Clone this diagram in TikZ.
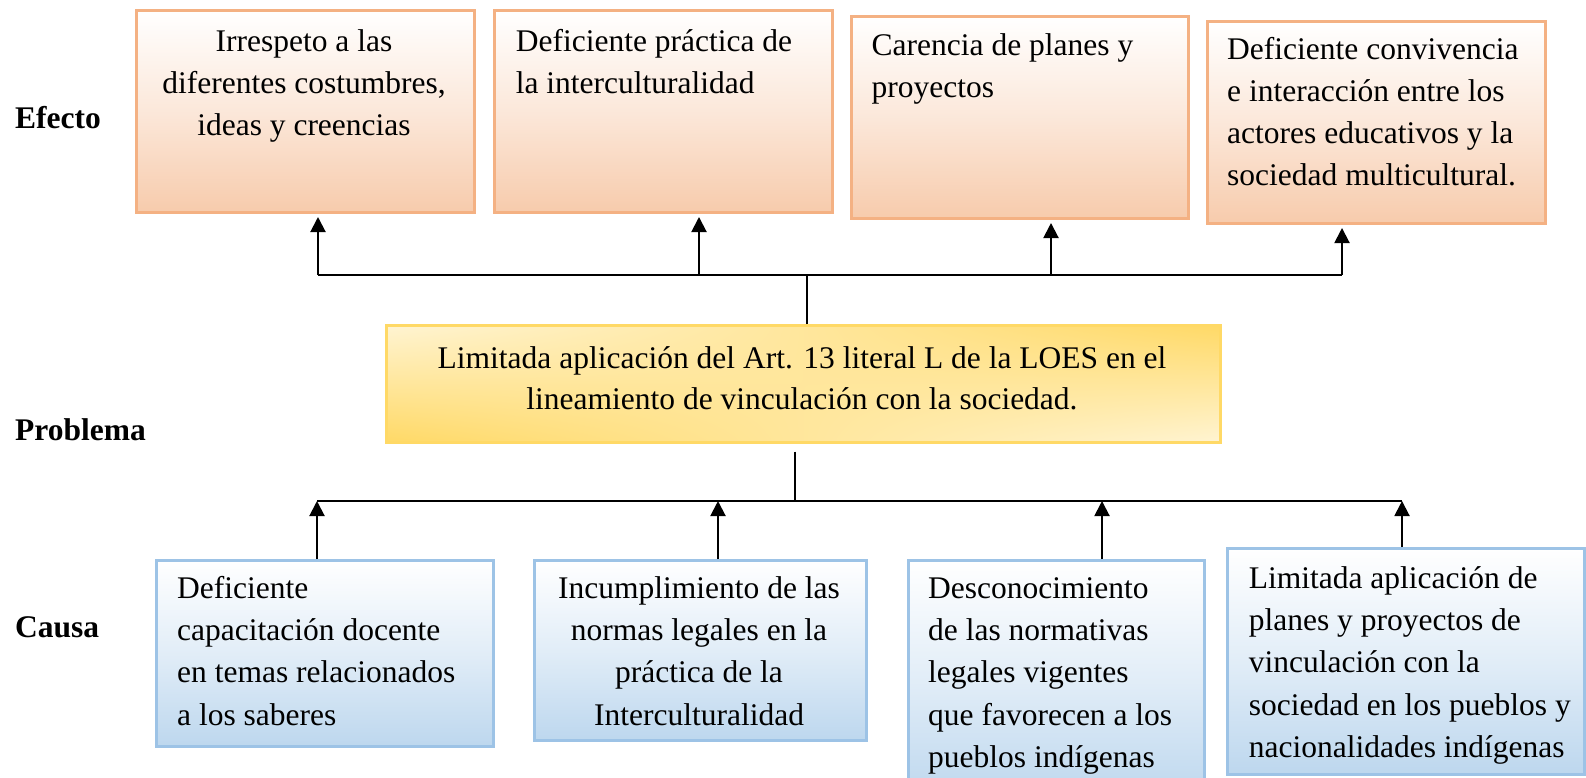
\documentclass[tikz,border=0pt]{standalone}
\usepackage{fontspec}
\setmainfont{Liberation Serif}
\usetikzlibrary{arrows.meta,shadings}
\definecolor{obord}{RGB}{244,177,131}
\definecolor{ofill}{RGB}{247,203,172}
\definecolor{bbord}{RGB}{157,195,230}
\definecolor{bfill}{RGB}{189,215,238}
\definecolor{ydark}{RGB}{255,217,102}
\definecolor{ylight}{RGB}{255,244,210}
\tikzset{
  obox/.style={draw=obord, line width=3pt, top color=white, bottom color=ofill, middle color=ofill!45, anchor=north west, inner sep=0pt},
  bbox/.style={draw=bbord, line width=3pt, top color=white, bottom color=bfill, middle color=bfill!45, anchor=north west, inner sep=0pt},
  ybox/.style={draw=ydark, line width=2.5pt, upper left=ylight, upper right=ydark, lower left=ydark, lower right=ylight, anchor=north west, inner sep=0pt},
  txt/.style={inner sep=0pt, font=\fontsize{31.5}{42}\selectfont},
  ptxt/.style={inner sep=0pt, font=\fontsize{31.5}{41}\selectfont},
  btxt/.style={inner sep=0pt, font=\fontsize{31.5}{42.4}\selectfont},
  lbl/.style={inner sep=0pt, anchor=base west, font=\fontsize{31.5}{41}\selectfont\bfseries},
  hline/.style={line width=2.6pt},
  vline/.style={line width=2pt},
  arr/.style={line width=2pt, -{Triangle[width=15pt,length=15pt]}}
}
\begin{document}
\begin{tikzpicture}[x=1pt,y=-1pt]
\useasboundingbox (0,0) rectangle (1586,777);
% Effect boxes
\node[obox, minimum width=338.5pt, minimum height=202pt] (e1) at (134.5,9) {};
\node[obox, minimum width=338pt, minimum height=202pt] (e2) at (493,9) {};
\node[obox, minimum width=337pt, minimum height=202pt] (e3) at (850,15) {};
\node[obox, minimum width=338pt, minimum height=202pt] (e4) at (1206,20) {};
\node[txt, anchor=north, align=center] (te1) at (304,{51-29.4}) {\strut Irrespeto a las\\diferentes costumbres,\\ideas y creencias};
\node[txt, anchor=north west, align=left] (te2) at (515.6,{51-29.4}) {\strut Deficiente práctica de\\la interculturalidad};
\node[txt, anchor=north west, align=left] (te3) at (871.5,{55-29.4}) {\strut Carencia de planes y\\proyectos};
\node[txt, anchor=north west, align=left] (te4) at (1227,{59-29.4}) {\strut Deficiente convivencia\\e interacción entre los\\actores educativos y la\\sociedad multicultural.};
% Problem box
\node[ybox, minimum width=834pt, minimum height=117pt] (pr) at (385,324) {};
\node[ptxt, anchor=north, align=center] (tpr) at (802,{368-28.7}) {\strut Limitada aplicación del Art. 13 literal L de la LOES en el\\lineamiento de vinculación con la sociedad.};
% Cause boxes
\node[bbox, minimum width=337pt, minimum height=186pt] (c1) at (155,559) {};
\node[bbox, minimum width=332pt, minimum height=180pt] (c2) at (533,559) {};
\node[bbox, minimum width=296pt, minimum height=240pt] (c3) at (907,559) {};
\node[bbox, minimum width=357pt, minimum height=226pt] (c4) at (1226,547) {};
\node[btxt, anchor=north west, align=left] (tc1) at (177,{598-29.7}) {\strut Deficiente\\capacitación docente\\en temas relacionados\\a los saberes};
\node[btxt, anchor=north, align=center] (tc2) at (699,{598-29.7}) {\strut Incumplimiento de las\\normas legales en la\\práctica de la\\Interculturalidad};
\node[btxt, anchor=north west, align=left] (tc3) at (928,{598-29.7}) {\strut Desconocimiento\\de las normativas\\legales vigentes\\que favorecen a los\\pueblos indígenas};
\node[btxt, anchor=north west, align=left] (tc4) at (1248.6,{588-29.7}) {\strut Limitada aplicación de\\planes y proyectos de\\vinculación con la\\sociedad en los pueblos y\\nacionalidades indígenas};
% Row labels
\node[lbl] (lef) at (15,128) {Efecto};
\node[lbl] (lpr) at (15,440) {Problema};
\node[lbl] (lca) at (15,637) {Causa};
% Top connectors
\coordinate (j1) at (318,275);
\coordinate (j2) at (699,275);
\coordinate (j3) at (1051,275);
\coordinate (j4) at (1342,275);
\coordinate (jt) at (807,275);
\draw[hline] (j1) -- (j4);
\draw[vline] (jt |- pr.north) -- (jt);
\draw[arr, shorten >=3pt] (j1) -- (j1 |- e1.south);
\draw[arr, shorten >=3pt] (j2) -- (j2 |- e2.south);
\draw[arr, shorten >=3pt] (j3) -- (j3 |- e3.south);
\draw[arr, shorten >=3pt] (j4) -- (j4 |- e4.south);
% Bottom connectors
\coordinate (k1) at (317,501);
\coordinate (k2) at (718,501);
\coordinate (k3) at (1102,501);
\coordinate (k4) at (1402,501);
\coordinate (kb) at (795,501);
\draw[hline] (k1) -- (k4);
\draw[vline] ([yshift=-8pt]kb |- pr.south) -- (kb);
\draw[arr] (k1 |- c1.north) -- (k1);
\draw[arr] (k2 |- c2.north) -- (k2);
\draw[arr] (k3 |- c3.north) -- (k3);
\draw[arr] (k4 |- c4.north) -- (k4);
\end{tikzpicture}
\end{document}
